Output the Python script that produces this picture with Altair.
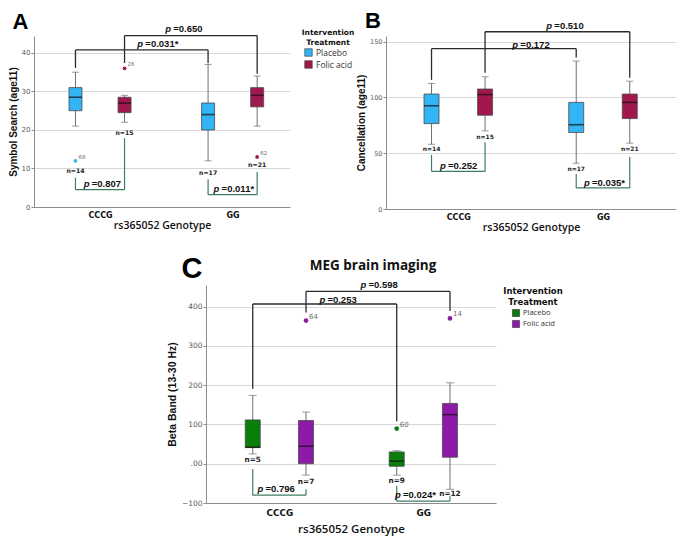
import altair as alt
import pandas as pd

# ---------------- shared categories ----------------
genotypes = ["CCCG", "GG"]
treatments = ["Placebo", "Folic acid"]
box_genotype = ["CCCG", "CCCG", "GG", "GG"]
box_treatment = ["Placebo", "Folic acid", "Placebo", "Folic acid"]
# brackets: genotype comparison (black, top) and treatment comparison (green, bottom)
br_g1 = ["CCCG", "CCCG", "CCCG", "GG"]
br_t1 = ["Placebo", "Folic acid", "Placebo", "Placebo"]
br_g2 = ["GG", "GG", "CCCG", "GG"]
br_t2 = ["Placebo", "Folic acid", "Folic acid", "Folic acid"]
br_kind = ["between", "between", "within", "within"]

# ---------------- Panel A: Symbol Search (age11) ----------------
a_lo = [21, 22, 12, 21]
a_q1 = [25, 24.5, 20, 26]
a_med = [28.5, 27, 24, 29]
a_q3 = [31, 28.5, 27, 31]
a_hi = [35, 29, 37, 34]
a_n = ["n=14", "n=15", "n=17", "n=21"]
a_n_y = [9.3, 19.2, 8.9, 10.8]
a_out_genotype = ["CCCG", "CCCG", "GG"]
a_out_treatment = ["Placebo", "Folic acid", "Folic acid"]
a_out_value = [12, 36, 13]
a_out_label = ["68", "26", "62"]
a_br_bar = [40.8, 44.5, 4.5, 3.2]
a_br_left = [36.1, 37.4, 7.6, 7.2]
a_br_right = [37.3, 34.6, 17.9, 9.1]
a_br_p = ["=0.031*", "=0.650", "=0.807", "=0.011*"]
a_br_px = [1.85, 2.27, 1.04, 3.0]
a_br_py = [42.4, 46.1, 6.0, 4.6]

# ---------------- Panel B: Cancellation (age11) ----------------
b_lo = [58, 70, 41, 59]
b_q1 = [76.5, 84, 68.5, 81]
b_med = [92.5, 102.5, 75.5, 95.5]
b_q3 = [103, 107.5, 95.5, 103]
b_hi = [112.5, 118.5, 132.5, 114.5]
b_n = ["n=14", "n=15", "n=17", "n=21"]
b_n_y = [53.8, 64.5, 35.8, 54]
b_br_bar = [143.6, 158.8, 33.7, 18.9]
b_br_left = [115.7, 122, 48.5, 31.4]
b_br_right = [135.8, 117.7, 59.9, 46.5]
b_br_p = ["=0.172", "=0.510", "=0.252", "=0.035*"]
b_br_px = [2.01, 2.48, 1.01, 3.0]
b_br_py = [146.8, 164, 38.7, 23.3]

# ---------------- Panel C: MEG brain imaging ----------------
c_lo = [25, -29, -29, -65]
c_q1 = [41, 0, -6.5, 16.5]
c_med = [42, 44.5, 6.5, 125]
c_q3 = [111.5, 110, 30, 153.5]
c_hi = [174, 131.5, 33, 206]
c_n = ["n=5", "n=7", "n=9", "n=12"]
c_n_y = [9, -47, -43, -76]
c_out_genotype = ["CCCG", "GG", "GG"]
c_out_treatment = ["Folic acid", "Placebo", "Folic acid"]
c_out_value = [364.5, 89.5, 370]
c_out_label = ["64", "60", "14"]
c_br_bar = [406.6, 438.8, -80, -95]
c_br_left = [190.9, 385, -14, -57]
c_br_right = [108, 389, -65, -83]
c_br_p = ["=0.253", "=0.598", "=0.796", "=0.024*"]
c_br_px = [1.82, 2.39, 0.96, 2.87]
c_br_py = [418, 455, -65, -80]

POS_G = {"CCCG": 1.0, "GG": 3.0}
POS_T = {"Placebo": -0.37, "Folic acid": 0.37}


def pos(g, t):
    return POS_G[g] + POS_T[t]


def make_panel(cfg):
    boxes = pd.DataFrame({
        "genotype": box_genotype, "treatment": box_treatment,
        "lo": cfg["lo"], "q1": cfg["q1"], "med": cfg["med"], "q3": cfg["q3"],
        "hi": cfg["hi"], "n": cfg["n"], "ny": cfg["ny"]})
    boxes["pos"] = [pos(g, t) for g, t in zip(boxes.genotype, boxes.treatment)]

    segs = []
    for i in range(len(br_g1)):
        x1 = pos(br_g1[i], br_t1[i])
        x2 = pos(br_g2[i], br_t2[i])
        b = cfg["br_bar"][i]
        segs.append(dict(x=x1, x2=x1, y=cfg["br_left"][i], y2=b, kind=br_kind[i]))
        segs.append(dict(x=x1, x2=x2, y=b, y2=b, kind=br_kind[i]))
        segs.append(dict(x=x2, x2=x2, y=b, y2=cfg["br_right"][i], kind=br_kind[i]))
    segs = pd.DataFrame(segs)
    ptext = pd.DataFrame({"px": cfg["br_px"], "py": cfg["br_py"], "val": cfg["br_p"],
                          "p": ["p"] * len(cfg["br_p"])})

    xsc = alt.Scale(domain=cfg["xdomain"], nice=False, zero=False)
    ysc = alt.Scale(domain=cfg["ydomain"], nice=False, zero=False)
    xax = alt.Axis(values=[1, 3], labelExpr="datum.value == 1 ? 'CCCG' : 'GG'",
                   ticks=False, grid=False, domainColor="#8c8c8c",
                   labelFont="DejaVu Sans", labelFontWeight="bold",
                   labelFontSize=cfg["xlab_size"], labelColor="#111",
                   labelPadding=cfg["xlab_pad"], title="rs365052 Genotype",
                   titleFont="Open Sans", titleFontWeight=600,
                   titleFontSize=cfg["xtitle_size"], titlePadding=cfg["xtitle_pad"],
                   titleColor="#111")
    ykw = dict(values=cfg["yticks"], grid=True, gridColor="#d8d8d8",
               domainColor="#8c8c8c", tickColor="#8c8c8c", tickSize=3,
               labelFont="DejaVu Sans", labelFontSize=cfg["ylab_size"],
               labelColor="#5a5a5a", labelPadding=1, title=cfg["ytitle"],
               titleFont="Liberation Sans", titleFontWeight="bold",
               titleFontSize=cfg["ytitle_size"], titleColor="#111",
               titlePadding=cfg["ytitle_pad"])
    if "ylabel_expr" in cfg:
        ykw["labelExpr"] = cfg["ylabel_expr"]
    yax = alt.Axis(**ykw)

    def X(f):
        return alt.X(f, type="quantitative", scale=xsc, axis=xax)

    def Y(f):
        return alt.Y(f, type="quantitative", scale=ysc, axis=yax)

    if cfg["legend"] is not None:
        color = alt.Color("treatment:N", scale=alt.Scale(domain=treatments, range=cfg["colors"]),
                          legend=cfg["legend"])
    else:
        color = alt.Color("treatment:N", scale=alt.Scale(domain=treatments, range=cfg["colors"]),
                          legend=None)

    base = alt.Chart(boxes)
    layers = [
        base.mark_rule(color="#707070", strokeWidth=1).encode(x=X("pos"), y=Y("lo"), y2="hi"),
        base.mark_tick(orient="horizontal", size=cfg["cap"], thickness=1, color="#707070").encode(
            x=X("pos"), y=Y("lo")),
        base.mark_tick(orient="horizontal", size=cfg["cap"], thickness=1, color="#707070").encode(
            x=X("pos"), y=Y("hi")),
        base.mark_bar(size=cfg["bw"], stroke="#4a4a4a", strokeWidth=0.8, opacity=1).encode(
            x=X("pos"), y=Y("q1"), y2="q3", color=color),
        base.mark_tick(orient="horizontal", size=cfg["bw"], thickness=1.6, color="#111").encode(
            x=X("pos"), y=Y("med")),
        base.mark_text(font="DejaVu Sans", fontWeight="bold", fontSize=cfg["n_size"],
                       color="#222", baseline="middle").encode(
            x=X("pos"), y=Y("ny"), text="n:N"),
    ]
    if cfg.get("out_value"):
        outl = pd.DataFrame({"genotype": cfg["out_genotype"], "treatment": cfg["out_treatment"],
                             "value": cfg["out_value"], "label": cfg["out_label"]})
        outl["pos"] = [pos(g, t) for g, t in zip(outl.genotype, outl.treatment)]
        ob = alt.Chart(outl)
        layers += [
            ob.mark_circle(size=cfg["out_size"], opacity=1).encode(
                x=X("pos"), y=Y("value"), color=color),
            ob.mark_text(align="left", dx=3, dy=-4, fontSize=cfg["out_lab_size"],
                         font="DejaVu Sans", color="#6a6a6a").encode(
                x=X("pos"), y=Y("value"), text="label:N"),
        ]
    sb = alt.Chart(segs)
    layers += [
        sb.transform_filter(alt.datum.kind == "between").mark_rule(
            color="#2b2b2b", strokeWidth=1.3).encode(x=X("x"), x2="x2", y=Y("y"), y2="y2"),
        sb.transform_filter(alt.datum.kind == "within").mark_rule(
            color="#3d7f62", strokeWidth=1.2).encode(x=X("x"), x2="x2", y=Y("y"), y2="y2"),
    ]
    pb = alt.Chart(ptext)
    layers += [
        pb.mark_text(align="left", baseline="middle", dx=-19, font="Liberation Sans",
                     fontStyle="italic", fontWeight="bold", fontSize=9.5, color="#111").encode(
            x=X("px"), y=Y("py"), text="p:N"),
        pb.mark_text(align="left", baseline="middle", dx=-11, font="Liberation Sans",
                     fontWeight="bold", fontSize=9.5, color="#111").encode(
            x=X("px"), y=Y("py"), text="val:N"),
    ]
    lab = pd.DataFrame({"t": [cfg["letter"]]})
    layers.append(alt.Chart(lab).mark_text(
        font="Liberation Sans", fontWeight="bold", fontSize=cfg["letter_size"],
        align="center", baseline="middle", color="#000").encode(
        x=alt.value(cfg["letter_x"]), y=alt.value(cfg["letter_y"]), text="t:N"))
    if "title" in cfg:
        tt = pd.DataFrame({"t": [cfg["title"]]})
        layers.append(alt.Chart(tt).mark_text(
            font="Open Sans", fontWeight="bold", fontSize=13.5, align="center",
            baseline="middle", color="#111").encode(
            x=alt.value(cfg["title_x"]), y=alt.value(cfg["title_y"]), text="t:N"))
    if "anchor_x" in cfg:
        # invisible layout anchor that fixes the panel's left extent
        layers.append(alt.Chart(lab).mark_rule(opacity=0, strokeWidth=1).encode(
            x=alt.value(cfg["anchor_x"]), y=alt.value(0), y2=alt.value(10)))
    return alt.layer(*layers).properties(width=cfg["width"], height=cfg["height"])


legend_a = alt.Legend(title=["Intervention", "Treatment"], orient="none", legendX=268,
                      legendY=-7, titleFont="DejaVu Sans", titleFontSize=7.5,
                      titleFontWeight="bold", titleAlign="center", titleAnchor="middle",
                      titleColor="#111", titlePadding=2, labelFont="Open Sans",
                      labelFontSize=8.5, labelColor="#333", symbolType="square",
                      symbolSize=56, symbolStrokeColor="#333", symbolStrokeWidth=0.6,
                      symbolOpacity=1, rowPadding=1, labelOffset=3)
legend_c = alt.Legend(title=["Intervention", "Treatment"], orient="none", legendX=297,
                      legendY=2, titleFont="DejaVu Sans", titleFontSize=8.5,
                      titleFontWeight="bold", titleAlign="center", titleAnchor="middle",
                      titleColor="#111", titlePadding=3, labelFont="Open Sans",
                      labelFontSize=7.5, labelColor="#333", symbolType="square",
                      symbolSize=50, symbolStrokeColor="#333", symbolStrokeWidth=0.6,
                      symbolOpacity=1, rowPadding=1, labelOffset=3)

chart_a = make_panel(dict(
    lo=a_lo, q1=a_q1, med=a_med, q3=a_q3, hi=a_hi, n=a_n, ny=a_n_y,
    out_genotype=a_out_genotype, out_treatment=a_out_treatment, out_value=a_out_value,
    out_label=a_out_label, br_bar=a_br_bar, br_left=a_br_left, br_right=a_br_right,
    br_p=a_br_p, br_px=a_br_px, br_py=a_br_py,
    xdomain=[0.08, 3.79], ydomain=[0, 44.4], yticks=[0, 10, 20, 30, 40],
    ytitle="Symbol Search (age11)", ytitle_size=10, ytitle_pad=3, ylab_size=7,
    xlab_size=8, xlab_pad=4, xtitle_size=10.5, xtitle_pad=1,
    colors=["#33b5f5", "#a0184e"], legend=legend_a, bw=13, cap=7, n_size=6.2,
    out_size=14, out_lab_size=5.5, letter="A", letter_size=22, letter_x=-13.5,
    letter_y=-14.5, width=256, height=171, anchor_x=-26))

chart_b = make_panel(dict(
    lo=b_lo, q1=b_q1, med=b_med, q3=b_q3, hi=b_hi, n=b_n, ny=b_n_y,
    br_bar=b_br_bar, br_left=b_br_left, br_right=b_br_right,
    br_p=b_br_p, br_px=b_br_px, br_py=b_br_py,
    xdomain=[0.07, 3.94], ydomain=[0, 155], yticks=[0, 50, 100, 150],
    ytitle="Cancellation (age11)", ytitle_size=10, ytitle_pad=3, ylab_size=6.5,
    xlab_size=8, xlab_pad=4, xtitle_size=10.5, xtitle_pad=1,
    colors=["#33b5f5", "#a0184e"], legend=None, bw=15, cap=7, n_size=6,
    letter="B", letter_size=22, letter_x=-13, letter_y=-15, width=290, height=173))

chart_c = make_panel(dict(
    lo=c_lo, q1=c_q1, med=c_med, q3=c_q3, hi=c_hi, n=c_n, ny=c_n_y,
    out_genotype=c_out_genotype, out_treatment=c_out_treatment, out_value=c_out_value,
    out_label=c_out_label, br_bar=c_br_bar, br_left=c_br_left, br_right=c_br_right,
    br_p=c_br_p, br_px=c_br_px, br_py=c_br_py,
    xdomain=[0.05, 3.94], ydomain=[-100, 455], yticks=[-100, 0, 100, 200, 300, 400],
    ylabel_expr="datum.value == 0 ? '.00' : datum.label",
    ytitle="Beta Band (13-30 Hz)", ytitle_size=10.5, ytitle_pad=4, ylab_size=7.5,
    xlab_size=8.8, xlab_pad=5, xtitle_size=11.5, xtitle_pad=7,
    colors=["#0b7d0b", "#8e1aa8"], legend=legend_c, bw=15, cap=8, n_size=7.3,
    out_size=22, out_lab_size=7, letter="C", letter_size=29, letter_x=-14,
    letter_y=-16, title="MEG brain imaging", title_x=167, title_y=-19,
    width=290, height=218, anchor_x=-40))

# invisible spacer that pushes panel C to the right
spacer = alt.Chart(pd.DataFrame({"v": [0]})).mark_rule(opacity=0, strokeWidth=1).encode(
    x=alt.value(1), y=alt.value(0), y2=alt.value(5)).properties(width=112, height=10)

top_row = alt.hconcat(chart_a, chart_b, spacing=1).resolve_scale(
    x="independent", y="independent", color="independent").resolve_legend(color="independent")
bottom_row = alt.hconcat(spacer, chart_c, spacing=20).resolve_scale(
    x="independent", y="independent", color="independent").resolve_legend(color="independent")

chart = alt.vconcat(top_row, bottom_row, spacing=22).resolve_scale(
    x="independent", y="independent", color="independent"
).resolve_legend(color="independent").properties(
    padding={"left": 0, "top": 2, "right": 0, "bottom": 0}
).configure_view(strokeWidth=0)

chart.save("out.html", embed_options={"renderer": "svg", "actions": False})
